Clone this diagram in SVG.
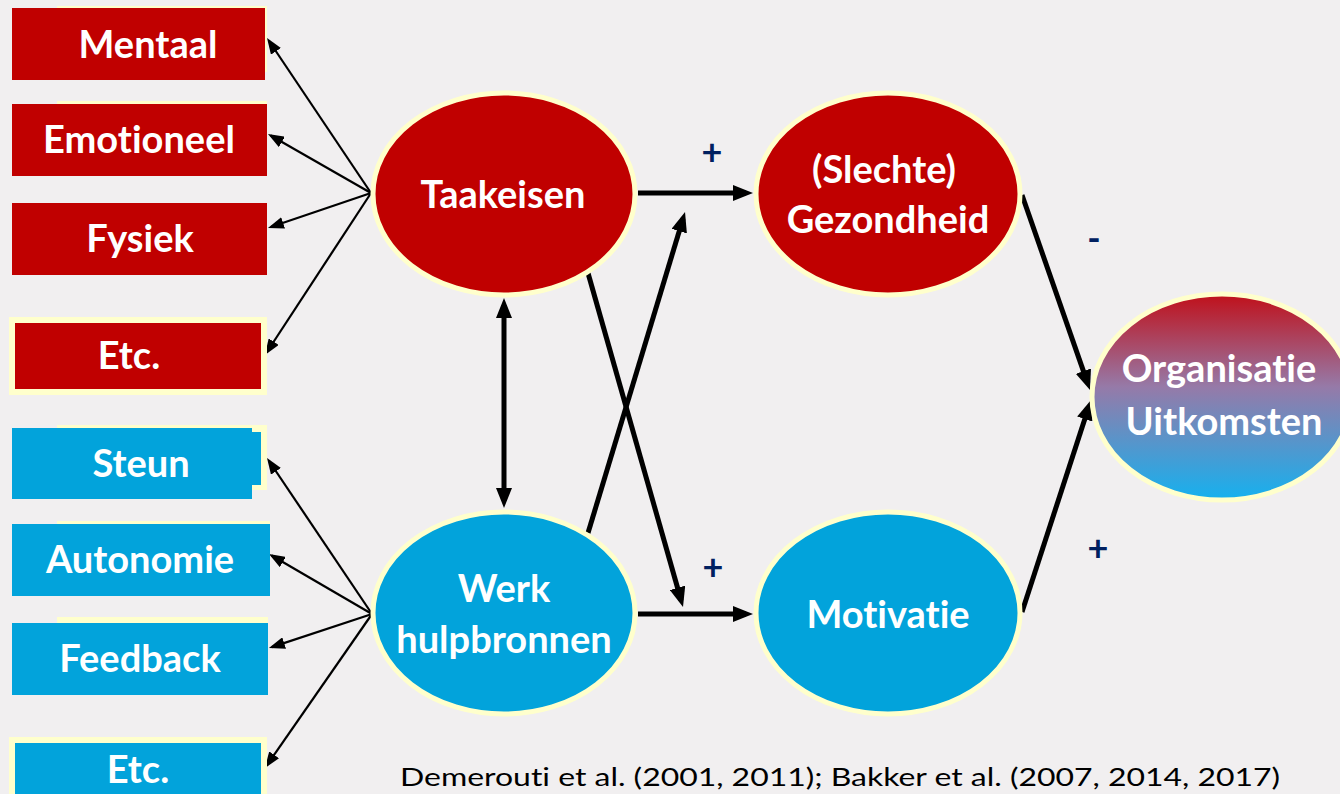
<svg xmlns="http://www.w3.org/2000/svg" width="1340" height="794" viewBox="0 0 1340 794">
<defs>
<style>
.lbl{font-family:Lato,"Open Sans","Liberation Sans",sans-serif;font-weight:700;font-size:38px;fill:#FFFFFF;text-anchor:middle;font-variant-ligatures:none}
.sign{font-family:Lato,"Liberation Sans",sans-serif;font-weight:700;font-size:36px;fill:#002060;text-anchor:middle}
.red{fill:#C00000}
.blue{fill:#02A3DB}
.yel{fill:#FFFFCC}
.ell{stroke:#FFFFCC;stroke-width:5}
.thin{stroke:#000;stroke-width:2.2;fill:none}
.thick{stroke:#000;stroke-width:5;fill:none}
.ref{font-family:Lato,"Liberation Sans",sans-serif;font-size:25px;fill:#000;font-variant-ligatures:none}
</style>
<marker id="ahs" viewBox="0 0 16 12" refX="13" refY="6" markerWidth="16" markerHeight="12" orient="auto" markerUnits="userSpaceOnUse"><path d="M0,0 L16,6 L0,12 z" fill="#000"/></marker>
<marker id="ahl" viewBox="0 0 20 16" refX="13" refY="8" markerWidth="20" markerHeight="16" orient="auto-start-reverse" markerUnits="userSpaceOnUse"><path d="M0,0 L20,8 L0,16 z" fill="#000"/></marker>
<linearGradient id="grad" x1="0" y1="0" x2="0" y2="1">
<stop offset="0" stop-color="#C0101A"/>
<stop offset="0.45" stop-color="#967AA8"/>
<stop offset="1" stop-color="#15B1EF"/>
</linearGradient>
</defs>
<rect x="0" y="0" width="1340" height="794" fill="#F1EFF0"/>

<g id="connectors">
<line class="thin" x1="371" y1="193" x2="268.7" y2="40.5" marker-end="url(#ahs)"/>
<line class="thin" x1="371" y1="193" x2="270.6" y2="135.5" marker-end="url(#ahs)"/>
<line class="thin" x1="371" y1="193" x2="270.8" y2="227" marker-end="url(#ahs)"/>
<line class="thin" x1="371" y1="193" x2="266.6" y2="352.5" marker-end="url(#ahs)" stroke-width="3"/>
<line class="thin" x1="372" y1="614" x2="268.7" y2="460.5" marker-end="url(#ahs)"/>
<line class="thin" x1="372" y1="614" x2="271.6" y2="555.5" marker-end="url(#ahs)"/>
<line class="thin" x1="372" y1="614" x2="271.8" y2="647.1" marker-end="url(#ahs)"/>
<line class="thin" x1="372" y1="614" x2="266.7" y2="765.5" marker-end="url(#ahs)" stroke-width="3"/>
<line class="thick" x1="638" y1="193" x2="746" y2="193" marker-end="url(#ahl)"/>
<line class="thick" x1="638" y1="614" x2="746" y2="614" marker-end="url(#ahl)"/>
<line class="thick" x1="504" y1="305" x2="504" y2="501" marker-start="url(#ahl)" marker-end="url(#ahl)"/>
<line class="thick" x1="588" y1="533" x2="683" y2="218.7" marker-end="url(#ahl)"/>
<line class="thick" x1="588" y1="273" x2="681.1" y2="600.3" marker-end="url(#ahl)"/>
<line class="thick" x1="1022" y1="195" x2="1087.7" y2="383.4" marker-end="url(#ahl)"/>
<line class="thick" x1="1022" y1="612" x2="1088.8" y2="406.7" marker-end="url(#ahl)"/>
</g>

<g id="mentaal">
<rect class="yel" x="57" y="6" width="210" height="66"/>
<rect class="red" x="12" y="8" width="253" height="72"/>
<text class="lbl" x="148" y="58">Mentaal</text>
</g>
<g id="emotioneel">
<rect class="yel" x="57" y="101" width="210" height="66"/>
<rect class="red" x="12" y="104" width="255" height="72"/>
<text class="lbl" x="139" y="153">Emotioneel</text>
</g>
<g id="fysiek">
<rect class="red" x="12" y="203" width="255" height="72"/>
<text class="lbl" x="140" y="252">Fysiek</text>
</g>
<g id="etc-red">
<rect class="yel" x="9" y="317" width="258" height="78"/>
<rect class="red" x="15" y="323" width="246" height="66"/>
<text class="lbl" x="129" y="369">Etc.</text>
</g>

<g id="steun">
<rect class="yel" x="57" y="425" width="210" height="65"/>
<rect class="blue" x="12" y="428" width="240" height="71"/>
<rect class="blue" x="252" y="432" width="9" height="53"/>
<text class="lbl" x="141" y="477">Steun</text>
</g>
<g id="autonomie">
<rect class="yel" x="57" y="521" width="213" height="66"/>
<rect class="blue" x="12" y="524" width="258" height="72"/>
<text class="lbl" x="140" y="573">Autonomie</text>
</g>
<g id="feedback">
<rect class="yel" x="57" y="617" width="211" height="66"/>
<rect class="blue" x="12" y="623" width="256" height="72"/>
<text class="lbl" x="140" y="672">Feedback</text>
</g>
<g id="etc-blue">
<rect class="yel" x="9" y="737" width="258" height="70"/>
<rect class="blue" x="15" y="743" width="246" height="60"/>
<text class="lbl" x="138" y="783">Etc.</text>
</g>

<g id="taakeisen">
<ellipse class="ell red" cx="504" cy="194" rx="131" ry="101"/>
<text class="lbl" x="503" y="208">Taakeisen</text>
</g>
<g id="werkhulpbronnen">
<ellipse class="ell blue" cx="504" cy="613" rx="131" ry="101"/>
<text class="lbl" x="504" y="602">Werk</text>
<text class="lbl" x="504" y="653">hulpbronnen</text>
</g>
<g id="gezondheid">
<ellipse class="ell red" cx="888" cy="194" rx="132" ry="101"/>
<text class="lbl" x="884" y="183">(Slechte)</text>
<text class="lbl" x="888" y="233">Gezondheid</text>
</g>
<g id="motivatie">
<ellipse class="ell blue" cx="888" cy="613" rx="132" ry="101"/>
<text class="lbl" x="888" y="628">Motivatie</text>
</g>
<g id="organisatie">
<ellipse class="ell" fill="url(#grad)" cx="1222" cy="397" rx="130" ry="103"/>
<text class="lbl" x="1219" y="382">Organisatie</text>
<text class="lbl" x="1224" y="435">Uitkomsten</text>
</g>

<g id="signs">
<text class="sign" x="712" y="165">+</text>
<text class="sign" x="713" y="580">+</text>
<text class="sign" x="1094" y="251">-</text>
<text class="sign" x="1098" y="561">+</text>
</g>

<text class="ref" x="400" y="786" textLength="880" lengthAdjust="spacingAndGlyphs">Demerouti et al. (2001, 2011); Bakker et al. (2007, 2014, 2017)</text>
</svg>
